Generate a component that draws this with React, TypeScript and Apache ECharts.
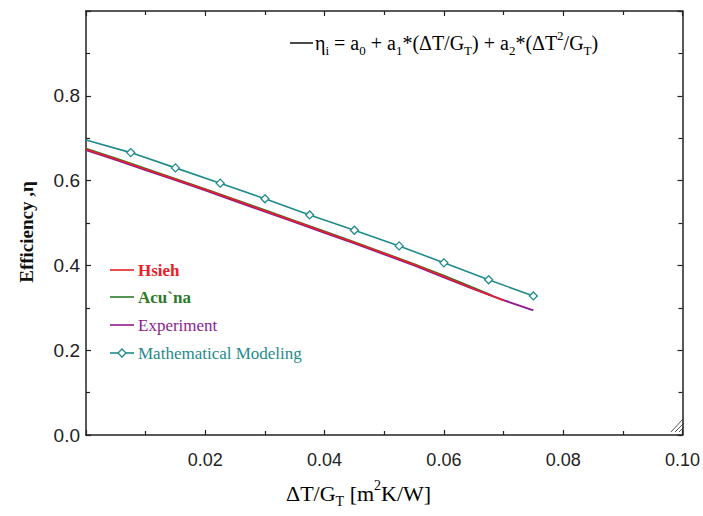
import React, { useEffect, useRef } from "react";
import * as echarts from "echarts";

// Mathematical Modeling (teal, diamond markers)
const mmX = [0, 0.0075, 0.015, 0.0225, 0.03, 0.0375, 0.045, 0.0525, 0.06, 0.0675, 0.075];
const mmY = [0.696, 0.666, 0.630, 0.594, 0.557, 0.519, 0.483, 0.446, 0.406, 0.366, 0.328];

// Hsieh (red)
const hsiehX = [0, 0.005, 0.01, 0.015, 0.02, 0.025, 0.03, 0.035, 0.04, 0.045, 0.05, 0.055, 0.06, 0.065, 0.07];
const hsiehY = [0.674, 0.651, 0.627, 0.603, 0.579, 0.554, 0.529, 0.504, 0.479, 0.454, 0.428, 0.402, 0.374, 0.345, 0.317];

// Acu`na (green)
const acunaX = [0, 0.005, 0.01, 0.015, 0.02, 0.025, 0.03, 0.035, 0.04, 0.045, 0.05, 0.055, 0.06, 0.065, 0.068];
const acunaY = [0.675, 0.652, 0.628, 0.604, 0.580, 0.555, 0.530, 0.505, 0.480, 0.455, 0.429, 0.403, 0.376, 0.347, 0.329];

// Experiment (purple)
const expX = [0, 0.005, 0.01, 0.015, 0.02, 0.025, 0.03, 0.035, 0.04, 0.045, 0.05, 0.055, 0.06, 0.065, 0.07, 0.075];
const expY = [0.672, 0.649, 0.625, 0.601, 0.577, 0.552, 0.527, 0.502, 0.477, 0.452, 0.426, 0.400, 0.372, 0.344, 0.318, 0.294];

const xTicks = [0.02, 0.04, 0.06, 0.08, 0.1];
const yTicks = [0, 0.2, 0.4, 0.6, 0.8];

const legendNames = ["Hsieh", "Acu`na", "Experiment", "Mathematical Modeling"];

const RED = "#e8202a";
const GREEN = "#2a7a2a";
const PURPLE = "#8e1b8e";
const TEAL = "#1f8a8c";

const pairs = (xs: number[], ys: number[]) => xs.map((x, i) => [x, ys[i]]);

export default function App() {
  const ref = useRef<HTMLDivElement>(null);
  useEffect(() => {
    if (!ref.current) return;
    const chart = echarts.init(ref.current, undefined, { renderer: "svg" });
    const serif = "'Liberation Serif', 'Times New Roman', serif";
    const sans = "'Liberation Sans', Arial, sans-serif";
    const mmData = pairs(mmX, mmY).map((p, i) =>
      i === 0 ? { value: p, symbol: "none" } : { value: p }
    );
    const axisLine = { show: true, onZero: false, lineStyle: { color: "#222", width: 1.5 } };
    const tick = { show: true, inside: true, length: 5, lineStyle: { color: "#222", width: 1.2 } };
    const minor = { show: true, splitNumber: 2, length: 4, lineStyle: { color: "#222", width: 1.2 } };

    const legendColors = [RED, GREEN, PURPLE, TEAL];
    const legendBold = [true, true, false, false];
    const legendYs = [270, 297, 325, 353];
    const legendGraphics: any[] = [];
    legendNames.forEach((name, i) => {
      const y = legendYs[i];
      legendGraphics.push({
        type: "line",
        shape: { x1: 110, y1: y, x2: 134, y2: y },
        style: { stroke: legendColors[i], lineWidth: 1.6 },
      });
      if (i === 3) {
        legendGraphics.push({
          type: "polygon",
          shape: { points: [[122, y - 4], [126, y], [122, y + 4], [118, y]] },
          style: { fill: "#fff", stroke: TEAL, lineWidth: 1.3 },
        });
      }
      legendGraphics.push({
        type: "text",
        x: 138,
        y,
        style: {
          text: name,
          fontFamily: serif,
          fontSize: 17,
          fontWeight: legendBold[i] ? "bold" : "normal",
          fill: legendColors[i],
          verticalAlign: "middle",
          align: "left",
        },
      });
    });

    chart.setOption({
      animation: false,
      backgroundColor: "#fff",
      grid: { left: 86, right: 16, top: 11, bottom: 81, containLabel: false },
      xAxis: [
        {
          type: "value",
          min: 0,
          max: 0.1,
          interval: 0.02,
          position: "bottom",
          axisLine,
          axisTick: tick,
          minorTick: minor,
          splitLine: { show: false },
          axisLabel: {
            margin: 16,
            fontFamily: sans,
            fontSize: 18,
            color: "#222",
            formatter: (v: number) => (xTicks.some((t) => Math.abs(t - v) < 1e-9) ? v.toFixed(2) : ""),
          },
        },
        {
          type: "value",
          min: 0,
          max: 0.1,
          interval: 0.02,
          position: "top",
          axisLine,
          axisTick: tick,
          minorTick: minor,
          splitLine: { show: false },
          axisLabel: { show: false },
        },
      ],
      yAxis: [
        {
          type: "value",
          min: 0,
          max: 1,
          interval: 0.2,
          position: "left",
          axisLine,
          axisTick: tick,
          minorTick: minor,
          splitLine: { show: false },
          axisLabel: {
            margin: 6,
            fontFamily: sans,
            fontSize: 19,
            color: "#222",
            formatter: (v: number) => (yTicks.some((t) => Math.abs(t - v) < 1e-9) ? v.toFixed(1) : ""),
          },
        },
        {
          type: "value",
          min: 0,
          max: 1,
          interval: 0.2,
          position: "right",
          axisLine,
          axisTick: tick,
          minorTick: minor,
          splitLine: { show: false },
          axisLabel: { show: false },
        },
      ],
      series: [
        {
          name: legendNames[1],
          type: "line",
          data: pairs(acunaX, acunaY),
          showSymbol: false,
          symbol: "none",
          lineStyle: { color: GREEN, width: 2 },
          z: 2,
        },
        {
          name: legendNames[2],
          type: "line",
          data: pairs(expX, expY),
          showSymbol: false,
          symbol: "none",
          lineStyle: { color: PURPLE, width: 2 },
          z: 3,
        },
        {
          name: legendNames[0],
          type: "line",
          data: pairs(hsiehX, hsiehY),
          showSymbol: false,
          symbol: "none",
          lineStyle: { color: RED, width: 1.6 },
          z: 4,
        },
        {
          name: legendNames[3],
          type: "line",
          data: mmData,
          symbol: "diamond",
          symbolSize: 8,
          lineStyle: { color: TEAL, width: 1.6 },
          itemStyle: { color: "#fff", borderColor: TEAL, borderWidth: 1.3 },
          z: 5,
        },
      ],
      graphic: [
        ...legendGraphics,
        {
          type: "line",
          shape: { x1: 290, y1: 43, x2: 313, y2: 43 },
          style: { stroke: "#111", lineWidth: 1.5 },
        },
        {
          type: "text",
          left: 315,
          top: 29,
          style: {
            text:
              "{m|η}{s|i}{m| = a}{s|0}{m| + a}{s|1}{m|*(ΔT/G}{s|T}{m|) + a}{s|2}{m|*(ΔT}{p|2}{m|/G}{s|T}{m|)}",
            rich: {
              m: { fontFamily: serif, fontSize: 20, color: "#111", lineHeight: 28 },
              s: { fontFamily: serif, fontSize: 13, color: "#111", lineHeight: 12, verticalAlign: "bottom" },
              p: { fontFamily: serif, fontSize: 13, color: "#111", lineHeight: 12, verticalAlign: "top" },
            },
          },
        },
        {
          type: "text",
          x: 26,
          y: 232,
          rotation: Math.PI / 2,
          style: {
            text: "Efficiency ,η",
            fontFamily: serif,
            fontWeight: "bold",
            fontSize: 19,
            fill: "#111",
            align: "center",
            verticalAlign: "middle",
          },
        },
        {
          type: "text",
          left: 286,
          top: 478,
          style: {
            text: "{m|ΔT/G}{s|T}{m| [m}{p|2}{m|K/W]}",
            rich: {
              m: { fontFamily: serif, fontSize: 22, color: "#111", lineHeight: 30 },
              s: { fontFamily: serif, fontSize: 14, color: "#111", lineHeight: 14, verticalAlign: "bottom" },
              p: { fontFamily: serif, fontSize: 14, color: "#111", lineHeight: 14, verticalAlign: "top" },
            },
          },
        },
        { type: "line", shape: { x1: 671, y1: 432, x2: 683, y2: 419 }, style: { stroke: "#555", lineWidth: 1 } },
        { type: "line", shape: { x1: 675, y1: 432, x2: 684, y2: 423 }, style: { stroke: "#555", lineWidth: 1 } },
        { type: "line", shape: { x1: 679, y1: 432, x2: 684, y2: 427 }, style: { stroke: "#555", lineWidth: 1 } },
      ],
    });
    return () => chart.dispose();
  }, []);
  return (
    <div
      ref={ref}
      style={{ position: "absolute", left: 0, top: 0, width: 703, height: 516 }}
    />
  );
}
